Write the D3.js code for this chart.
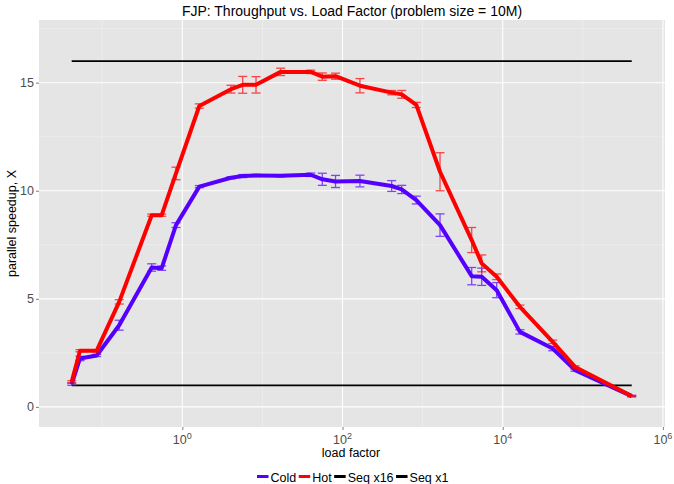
<!DOCTYPE html>
<html lang="en">
<head>
<meta charset="UTF-8">
<title>FJP throughput</title>
<script src="https://d3js.org/d3.v7.min.js"></script>
<style>
  body { margin: 0; background: #fff; }
  text { font-family: "Liberation Sans", Arial, sans-serif; }
</style>
</head>
<body>
<div id="chart"></div>
<script>
// load factors (x) shared by both series
var loadFactor = [0.0416, 0.0528, 0.0854, 0.163, 0.415, 0.553, 0.834, 1.63, 4.05, 5.68, 8.32, 16.9, 40.1, 56, 81.8,
                  165, 411, 548, 834, 1650, 4100, 5470, 8410, 16400, 42100, 80000, 408000];
var hotMean  = [1.16, 2.6, 2.6, 4.86, 8.87, 8.87, 10.8, 13.92, 14.7, 14.9, 14.9, 15.5, 15.5, 15.28, 15.3,
                14.86, 14.54, 14.46, 13.97, 10.88, 7.72, 6.64, 6.02, 4.63, 3.01, 1.85, 0.5];
var hotErr   = [0.05, 0.05, 0.05, 0.1, 0.05, 0.05, 0.29, 0.1, 0.18, 0.39, 0.38, 0.17, 0.08, 0.17, 0.14,
                0.33, 0.1, 0.18, 0.12, 0.88, 0.58, 0.39, 0.13, 0.08, 0.08, 0.05, 0.03];
var coldMean = [1.05, 2.24, 2.38, 3.78, 6.45, 6.42, 8.41, 10.19, 10.6, 10.68, 10.71, 10.69, 10.74, 10.53, 10.43,
                10.45, 10.22, 10.06, 9.57, 8.41, 6.05, 6.02, 5.4, 3.47, 2.7, 1.7, 0.5];
var coldErr  = [0.05, 0.1, 0.05, 0.23, 0.17, 0.1, 0.11, 0.05, 0.05, 0.07, 0.05, 0.05, 0.08, 0.28, 0.28,
                0.27, 0.25, 0.19, 0.18, 0.52, 0.4, 0.4, 0.35, 0.1, 0.1, 0.05, 0.03];
var seqX16 = 16;
var seqX1 = 1;
var xTicks = [1, 100, 10000, 1000000];
var xTickExp = ["0", "2", "4", "6"];
var yTicks = [0, 5, 10, 15];

var W = 674, H = 484;
var panel = { left: 39, right: 665, top: 20, bottom: 427 };

var svg = d3.select("#chart").append("svg")
    .attr("width", W)
    .attr("height", H);

var x = d3.scaleLog()
    .domain([Math.pow(10, -1.789), Math.pow(10, 6.026)])
    .range([panel.left, panel.right]);
var y = d3.scaleLinear()
    .domain([-0.93, 17.9])
    .range([panel.bottom, panel.top]);

// panel background + grid
svg.append("rect")
    .attr("x", panel.left).attr("y", panel.top)
    .attr("width", panel.right - panel.left).attr("height", panel.bottom - panel.top)
    .attr("fill", "#e5e5e5");

var xMinor = [0.1, 10, 1000, 100000];
var yMinor = [2.5, 7.5, 12.5, 17.5];
svg.selectAll(".xminor").data(xMinor).enter().append("line")
    .attr("x1", d => x(d)).attr("x2", d => x(d))
    .attr("y1", panel.top).attr("y2", panel.bottom)
    .attr("stroke", "#f2f2f2").attr("stroke-width", 0.6);
svg.selectAll(".yminor").data(yMinor).enter().append("line")
    .attr("x1", panel.left).attr("x2", panel.right)
    .attr("y1", d => y(d)).attr("y2", d => y(d))
    .attr("stroke", "#f2f2f2").attr("stroke-width", 0.6);
svg.selectAll(".xmajor").data(xTicks).enter().append("line")
    .attr("x1", d => x(d)).attr("x2", d => x(d))
    .attr("y1", panel.top).attr("y2", panel.bottom)
    .attr("stroke", "#fff").attr("stroke-width", 1.1);
svg.selectAll(".ymajor").data(yTicks).enter().append("line")
    .attr("x1", panel.left).attr("x2", panel.right)
    .attr("y1", d => y(d)).attr("y2", d => y(d))
    .attr("stroke", "#fff").attr("stroke-width", 1.1);

// axes
var xAxis = svg.append("g")
    .attr("transform", "translate(0," + panel.bottom + ")")
    .call(d3.axisBottom(x).tickValues(xTicks).tickSize(3).tickFormat(""));
var yAxis = svg.append("g")
    .attr("transform", "translate(" + panel.left + ",0)")
    .call(d3.axisLeft(y).tickValues(yTicks).tickSize(3).tickPadding(2));
[xAxis, yAxis].forEach(function (g) {
    g.select(".domain").remove();
    g.selectAll(".tick line").attr("stroke", "#7f7f7f");
    g.selectAll(".tick text").attr("fill", "#4d4d4d").style("font-size", "12.5px")
        .style("font-family", "'Liberation Sans', Arial, sans-serif");
});

// x tick labels as 10^k
var xl = svg.selectAll(".xlab").data(xTicks).enter().append("text")
    .attr("x", d => x(d))
    .attr("y", panel.bottom + 17)
    .attr("text-anchor", "middle")
    .attr("fill", "#4d4d4d")
    .style("font-size", "12.5px");
xl.append("tspan").text("10");
xl.append("tspan").attr("dy", -5).style("font-size", "9px").text((d, i) => xTickExp[i]);

// reference lines
var xEnds = [loadFactor[0], loadFactor[loadFactor.length - 1]];
[seqX16, seqX1].forEach(function (v) {
    svg.append("line")
        .attr("x1", x(xEnds[0])).attr("x2", x(xEnds[1]))
        .attr("y1", y(v)).attr("y2", y(v))
        .attr("stroke", "#000").attr("stroke-width", 1.8);
});

var series = [
    { name: "Cold", color: "#5500ff", mean: coldMean, err: coldErr },
    { name: "Hot", color: "#ff0000", mean: hotMean, err: hotErr }
];

var line = d3.line()
    .x(d => x(d.x))
    .y(d => y(d.y));

series.forEach(function (s) {
    var pts = loadFactor.map((lf, i) => ({ x: lf, y: s.mean[i], e: s.err[i] }));
    svg.append("path")
        .attr("d", line(pts))
        .attr("fill", "none")
        .attr("stroke", s.color)
        .attr("stroke-width", 4)
        .attr("stroke-linejoin", "round");
    var eb = svg.append("g")
        .attr("stroke", s.color)
        .attr("stroke-width", 1.3)
        .attr("opacity", 0.7);
    pts.forEach(function (p) {
        var cx = x(p.x), hw = 4.5;
        eb.append("line").attr("x1", cx).attr("x2", cx).attr("y1", y(p.y - p.e)).attr("y2", y(p.y + p.e));
        eb.append("line").attr("x1", cx - hw).attr("x2", cx + hw).attr("y1", y(p.y - p.e)).attr("y2", y(p.y - p.e));
        eb.append("line").attr("x1", cx - hw).attr("x2", cx + hw).attr("y1", y(p.y + p.e)).attr("y2", y(p.y + p.e));
    });
});

// titles
svg.append("text")
    .attr("x", (panel.left + panel.right) / 2).attr("y", 16)
    .attr("text-anchor", "middle")
    .style("font-size", "14px")
    .text("FJP: Throughput vs. Load Factor (problem size = 10M)");
svg.append("text")
    .attr("x", (panel.left + panel.right) / 2 - 1).attr("y", 457)
    .attr("text-anchor", "middle")
    .style("font-size", "12.5px")
    .text("load factor");
svg.append("text")
    .attr("transform", "translate(16," + ((panel.top + panel.bottom) / 2) + ") rotate(-90)")
    .attr("text-anchor", "middle")
    .style("font-size", "12.5px")
    .text("parallel speedup, X");

// legend
var legendItems = [
    { name: "Cold", color: "#5500ff" },
    { name: "Hot", color: "#ff0000" },
    { name: "Seq x16", color: "#000" },
    { name: "Seq x1", color: "#000" }
];
var lg = svg.append("g");
var lx = 257;
legendItems.forEach(function (d) {
    lg.append("line").attr("x1", lx).attr("x2", lx + 11.5).attr("y1", 476.5).attr("y2", 476.5)
        .attr("stroke", d.color).attr("stroke-width", 3);
    var t = lg.append("text").attr("x", lx + 13.5).attr("y", 481.5).style("font-size", "12.5px").text(d.name);
    lx += 13.5 + t.node().getComputedTextLength() + 2.5;
});
</script>
</body>
</html>
